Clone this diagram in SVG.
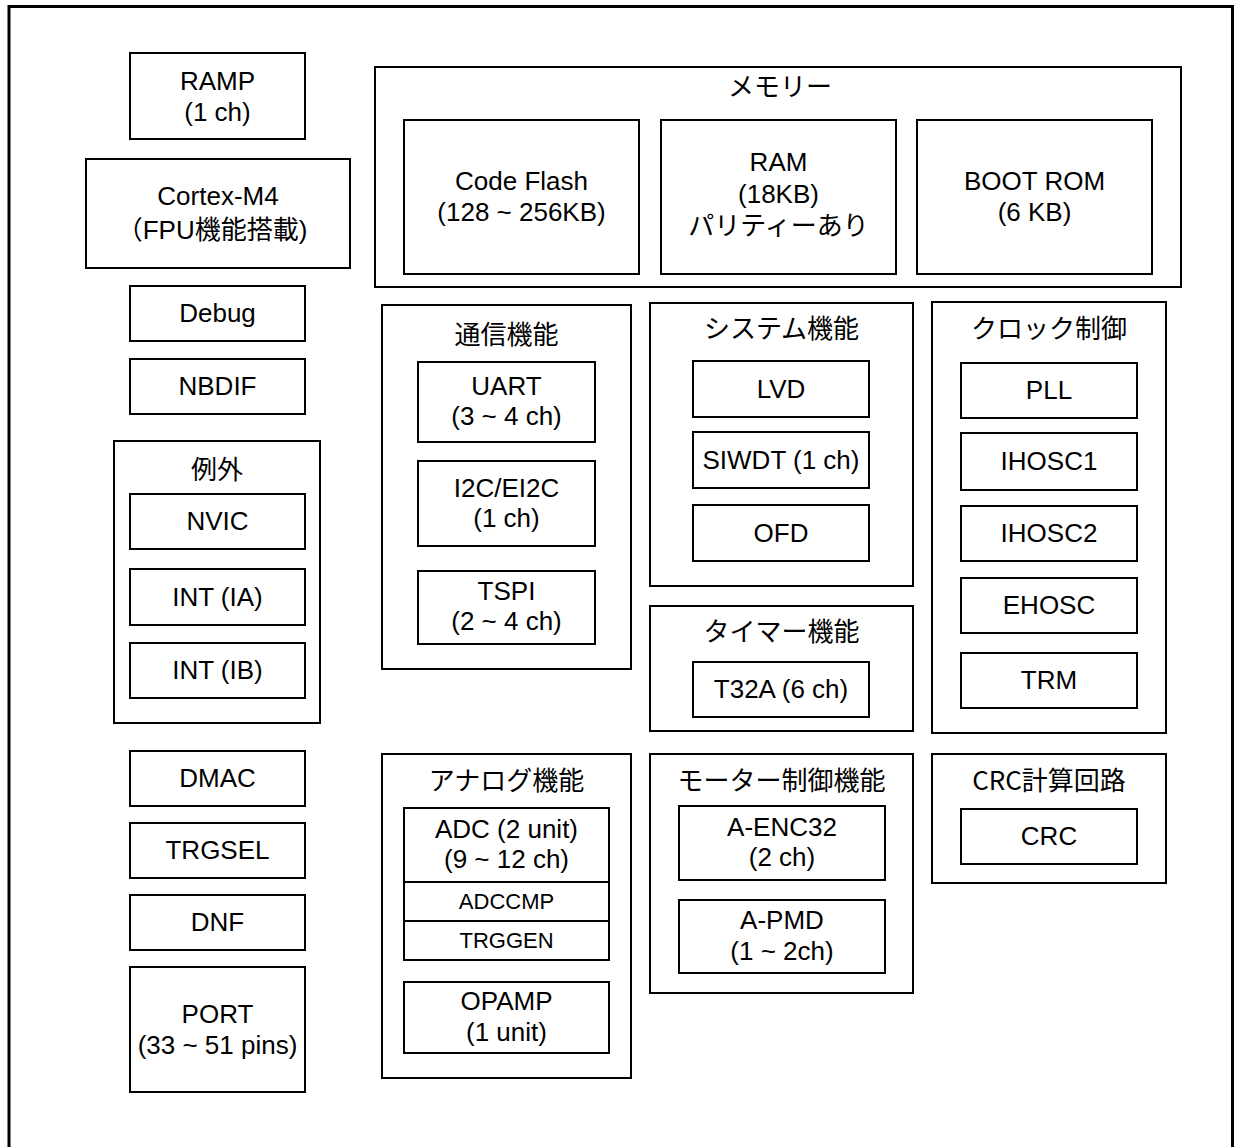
<svg xmlns="http://www.w3.org/2000/svg" width="1235" height="1147" viewBox="0 0 1235 1147">
<style>
.bx{fill:#fff;stroke:#000;stroke-width:2}
.ct{fill:none;stroke:#000;stroke-width:2}
text{font-family:"Liberation Sans","Noto Sans CJK JP",sans-serif;font-size:26px;fill:#000;text-anchor:middle}
.t{font-family:"Noto Sans CJK JP","Liberation Sans",sans-serif;font-size:26px}
.s{font-size:22px}
</style>
<rect x="0" y="0" width="1235" height="1147" fill="#fff"/>
<path d="M9,1147 V6.5 H1232.5 V1147" fill="none" stroke="#000" stroke-width="3"/>

<g id="ramp"><rect class="bx" x="130" y="53" width="175" height="86"/><text x="217.5" y="90">RAMP</text><text x="217.5" y="121">(1 ch)</text></g>
<g id="cortex"><rect class="bx" x="86" y="159" width="264" height="109"/><text x="218" y="205">Cortex-M4</text><text x="212" y="239">（FPU機能搭載)</text></g>
<g id="debug"><rect class="bx" x="130" y="286" width="175" height="55"/><text x="217.5" y="322">Debug</text></g>
<g id="nbdif"><rect class="bx" x="130" y="359" width="175" height="55"/><text x="217.5" y="395">NBDIF</text></g>
<g id="exception"><rect class="ct" x="114" y="441" width="206" height="282"/><text class="t" x="217" y="479">例外</text>
<g id="nvic"><rect class="bx" x="130" y="494" width="175" height="55"/><text x="217.5" y="530">NVIC</text></g>
<g id="int-ia"><rect class="bx" x="130" y="569" width="175" height="56"/><text x="217.5" y="606">INT (IA)</text></g>
<g id="int-ib"><rect class="bx" x="130" y="643" width="175" height="55"/><text x="217.5" y="679">INT (IB)</text></g>
</g>
<g id="dmac"><rect class="bx" x="130" y="751" width="175" height="55"/><text x="217.5" y="787">DMAC</text></g>
<g id="trgsel"><rect class="bx" x="130" y="823" width="175" height="55"/><text x="217.5" y="859">TRGSEL</text></g>
<g id="dnf"><rect class="bx" x="130" y="895" width="175" height="55"/><text x="217.5" y="931">DNF</text></g>
<g id="port"><rect class="bx" x="130" y="967" width="175" height="125"/><text x="217.5" y="1023">PORT</text><text x="217.5" y="1054">(33 ~ 51 pins)</text></g>

<g id="memory"><rect class="ct" x="375" y="67" width="806" height="220"/><text class="t" x="780" y="96">メモリー</text>
<g id="codeflash"><rect class="bx" x="404" y="120" width="235" height="154"/><text x="521.5" y="190">Code Flash</text><text x="521.5" y="221">(128 ~ 256KB)</text></g>
<g id="ram"><rect class="bx" x="661" y="120" width="235" height="154"/><text x="778.5" y="171">RAM</text><text x="778.5" y="203">(18KB)</text><text x="778.5" y="235">パリティーあり</text></g>
<g id="bootrom"><rect class="bx" x="917" y="120" width="235" height="154"/><text x="1034.5" y="190">BOOT ROM</text><text x="1034.5" y="221">(6 KB)</text></g>
</g>

<g id="comm"><rect class="ct" x="382" y="305" width="249" height="364"/><text class="t" x="506.5" y="344">通信機能</text>
<g id="uart"><rect class="bx" x="418" y="362" width="177" height="80"/><text x="506.5" y="395">UART</text><text x="506.5" y="425">(3 ~ 4 ch)</text></g>
<g id="i2c"><rect class="bx" x="418" y="461" width="177" height="85"/><text x="506.5" y="497">I2C/EI2C</text><text x="506.5" y="527">(1 ch)</text></g>
<g id="tspi"><rect class="bx" x="418" y="571" width="177" height="73"/><text x="506.5" y="600">TSPI</text><text x="506.5" y="630">(2 ~ 4 ch)</text></g>
</g>

<g id="system"><rect class="ct" x="650" y="303" width="263" height="283"/><text class="t" x="781.5" y="338">システム機能</text>
<g id="lvd"><rect class="bx" x="693" y="361" width="176" height="56"/><text x="781" y="398">LVD</text></g>
<g id="siwdt"><rect class="bx" x="693" y="432" width="176" height="56"/><text x="781" y="469">SIWDT (1 ch)</text></g>
<g id="ofd"><rect class="bx" x="693" y="505" width="176" height="56"/><text x="781" y="542">OFD</text></g>
</g>

<g id="timer"><rect class="ct" x="650" y="606" width="263" height="125"/><text class="t" x="781.5" y="641">タイマー機能</text>
<g id="t32a"><rect class="bx" x="693" y="662" width="176" height="55"/><text x="781" y="698">T32A (6 ch)</text></g>
</g>

<g id="clock"><rect class="ct" x="932" y="302" width="234" height="431"/><text class="t" x="1049" y="338">クロック制御</text>
<g id="pll"><rect class="bx" x="961" y="363" width="176" height="55"/><text x="1049" y="399">PLL</text></g>
<g id="ihosc1"><rect class="bx" x="961" y="433" width="176" height="57"/><text x="1049" y="470">IHOSC1</text></g>
<g id="ihosc2"><rect class="bx" x="961" y="506" width="176" height="55"/><text x="1049" y="542">IHOSC2</text></g>
<g id="ehosc"><rect class="bx" x="961" y="578" width="176" height="55"/><text x="1049" y="614">EHOSC</text></g>
<g id="trm"><rect class="bx" x="961" y="653" width="176" height="55"/><text x="1049" y="689">TRM</text></g>
</g>

<g id="analog"><rect class="ct" x="382" y="754" width="249" height="324"/><text class="t" x="506.5" y="790">アナログ機能</text>
<g id="adc"><rect class="bx" x="404" y="808" width="205" height="74"/><text x="506.5" y="838">ADC (2 unit)</text><text x="506.5" y="868">(9 ~ 12 ch)</text></g>
<g id="adccmp"><rect class="bx" x="404" y="882" width="205" height="39"/><text class="s" x="506.5" y="909">ADCCMP</text></g>
<g id="trggen"><rect class="bx" x="404" y="921" width="205" height="39"/><text class="s" x="506.5" y="948">TRGGEN</text></g>
<g id="opamp"><rect class="bx" x="404" y="982" width="205" height="71"/><text x="506.5" y="1010">OPAMP</text><text x="506.5" y="1041">(1 unit)</text></g>
</g>

<g id="motor"><rect class="ct" x="650" y="754" width="263" height="239"/><text class="t" x="781.5" y="790">モーター制御機能</text>
<g id="aenc32"><rect class="bx" x="679" y="806" width="206" height="74"/><text x="782" y="836">A-ENC32</text><text x="782" y="866">(2 ch)</text></g>
<g id="apmd"><rect class="bx" x="679" y="900" width="206" height="73"/><text x="782" y="929">A-PMD</text><text x="782" y="960">(1 ~ 2ch)</text></g>
</g>

<g id="crcblock"><rect class="ct" x="932" y="754" width="234" height="129"/><text class="t" x="1049" y="790">CRC計算回路</text>
<g id="crc"><rect class="bx" x="961" y="809" width="176" height="55"/><text x="1049" y="845">CRC</text></g>
</g>

<g id="connectors"></g>
</svg>
